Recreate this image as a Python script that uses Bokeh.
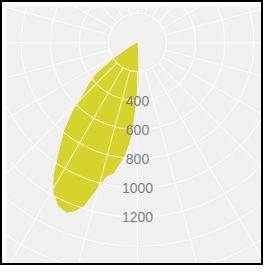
import numpy as np
from bokeh.plotting import figure
from bokeh.models import Range1d
from bokeh.core.properties import value
from bokeh.embed import file_html
from bokeh.resources import INLINE

# Polar area series: direction (degrees, clockwise from north) and value
directions = [176, 178.5, 181.8, 183.7, 186.5, 190.4, 193, 195.6, 198.2, 200.7,
              202.7, 205.7, 209.1, 212.1, 215.4, 220, 223.7, 226.6, 230, 232.9, 236.3, 240]
values = [60, 254, 440, 647, 788, 915, 945, 1049, 1187, 1242,
          1266, 1251, 1187, 1087, 936, 781, 637, 510, 430, 353, 198, 60]

# Radial axis
ring_values = [200, 400, 600, 800, 1000, 1200, 1400, 1600, 1800, 2000]
tick_labels = ["400", "600", "800", "1000", "1200"]
tick_values = [400, 600, 800, 1000, 1200]
spoke_angles = list(range(0, 360, 15))

p = figure(width=263, height=265,
           x_range=Range1d(-900.3, 872.9), y_range=Range1d(-1539.5, 247.4),
           output_backend="svg", toolbar_location=None,
           x_axis_location=None, y_axis_location=None,
           min_border_left=4, min_border_right=1, min_border_top=4, min_border_bottom=1,
           background_fill_color="#f0f0f0", border_fill_color="white",
           outline_line_color=None,
           styles={"border": "2px solid black"})
p.grid.visible = False

# Area
th = np.radians(np.array(directions, dtype=float))
v = np.array(values, dtype=float)
px = np.concatenate([[0.0], v * np.sin(th), [0.0]])
py = np.concatenate([[0.0], v * np.cos(th), [0.0]])
p.patch(px, py, fill_color="#d5d32c", line_color=None)

# Grid: rings and spokes
p.circle(x=[0] * len(ring_values), y=[0] * len(ring_values), radius=ring_values,
         fill_color=None, line_color="white", line_width=1.3, line_alpha=0.6)
sa = np.radians(np.array(spoke_angles, dtype=float))
r0, r1 = ring_values[0], ring_values[-1]
xs = [[r0 * np.sin(a), r1 * np.sin(a)] for a in sa]
ys = [[r0 * np.cos(a), r1 * np.cos(a)] for a in sa]
p.multi_line(xs, ys, line_color="white", line_width=1.3, line_alpha=0.6)

# Radial labels
p.text(x=[0] * len(tick_values), y=[-t for t in tick_values], text=tick_labels,
       text_align="center", text_baseline="middle",
       text_font=value("Liberation Sans"), text_font_size="14px", text_color="#808080")

open("out.html", "w").write(file_html(p, INLINE))
